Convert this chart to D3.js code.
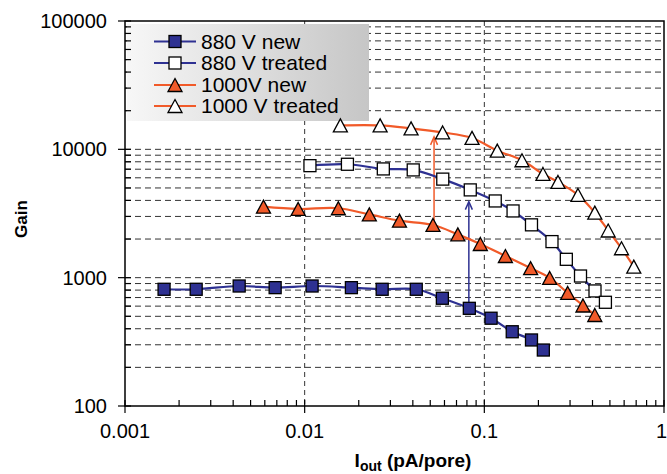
<!DOCTYPE html>
<html>
<head>
<meta charset="utf-8">
<script src="https://cdn.jsdelivr.net/npm/d3@7/dist/d3.min.js"></script>
<style>
  html, body { margin: 0; padding: 0; background: #fff; }
  svg { display: block; font-family: "Liberation Sans", Arial, sans-serif; }
</style>
</head>
<body>
<svg id="chart" width="667" height="474"></svg>
<script>
// ---- data ----
const seriesNames = ["880 V new", "880 V treated", "1000V new", "1000 V treated"];

const iNew880 = [0.00165, 0.00249, 0.00432, 0.00685, 0.0110, 0.0182, 0.0270, 0.0418, 0.0584, 0.0825, 0.109, 0.143, 0.183, 0.213];
const gNew880 = [812, 812, 861, 836, 861, 836, 812, 812, 691, 577, 483, 379, 327, 273];

const iTreated880 = [0.0107, 0.0173, 0.0274, 0.0402, 0.0587, 0.0835, 0.115, 0.1445, 0.183, 0.238, 0.286, 0.343, 0.413, 0.472];
const gTreated880 = [7460, 7650, 7035, 6910, 5860, 4830, 3960, 3310, 2580, 1910, 1390, 1030, 788, 643];

const iNew1000 = [0.0059, 0.0092, 0.0154, 0.0229, 0.0337, 0.0518, 0.0712, 0.095, 0.131, 0.181, 0.231, 0.291, 0.354, 0.412];
const gNew1000 = [3575, 3430, 3475, 3110, 2780, 2575, 2175, 1830, 1475, 1185, 995, 760, 607, 512];

const iTreated1000 = [0.0158, 0.0263, 0.0391, 0.0586, 0.0854, 0.118, 0.162, 0.212, 0.257, 0.332, 0.412, 0.489, 0.580, 0.679];
const gTreated1000 = [15360, 15360, 14550, 13540, 12270, 9770, 8220, 6430, 5570, 4410, 3210, 2330, 1695, 1218];

// arrows: [current, fromGain, toGain]
const arrowOrange = [0.0525, 2600, 12500];
const arrowBlue = [0.082, 594, 3910];

const xTickValues = [0.001, 0.01, 0.1, 1];
const xTickLabels = ["0.001", "0.01", "0.1", "1"];
const yTickValues = [100, 1000, 10000, 100000];
const yTickLabels = ["100", "1000", "10000", "100000"];

// ---- layout ----
const svg = d3.select("#chart");
const L = 125, R = 664, T = 21, B = 406;
const x = d3.scaleLog().domain([0.001, 1]).range([L, R]);
const y = d3.scaleLog().domain([100, 100000]).range([B, T]);

const BLUE = "#2E3192";
const ORANGE = "#F15A29";

// minor values
const yMinor = [];
[100, 1000, 10000].forEach(d => { for (let k = 1; k <= 9; k++) yMinor.push(d * k); });
yMinor.push(100000);
const xMinor = [];
[0.001, 0.01, 0.1].forEach(d => { for (let k = 2; k <= 9; k++) xMinor.push(d * k); });

// gridlines
const grid = svg.append("g");
grid.selectAll("line.h").data(yMinor.filter(v => v > 100 && v < 100000)).join("line")
  .attr("x1", L).attr("x2", R)
  .attr("y1", d => y(d)).attr("y2", d => y(d))
  .attr("stroke", "#333").attr("stroke-width", 1).attr("stroke-dasharray", "6,4");
grid.selectAll("line.v").data([0.01, 0.1]).join("line")
  .attr("x1", d => x(d)).attr("x2", d => x(d))
  .attr("y1", T).attr("y2", B)
  .attr("stroke", "#333").attr("stroke-width", 1).attr("stroke-dasharray", "5,4");

// legend background (opaque, covers gridlines)
const defs = svg.append("defs");
const grad = defs.append("linearGradient").attr("id", "lg").attr("x1", "0").attr("x2", "1").attr("y1", "0").attr("y2", "0");
grad.append("stop").attr("offset", "0").attr("stop-color", "#f7f7f7");
grad.append("stop").attr("offset", "1").attr("stop-color", "#c6c6c6");
svg.append("rect").attr("x", 127).attr("y", 24).attr("width", 242).attr("height", 97).attr("fill", "url(#lg)");

// frame
svg.append("rect").attr("x", L).attr("y", T).attr("width", R - L).attr("height", B - T)
  .attr("fill", "none").attr("stroke", "#000").attr("stroke-width", 1.5);

// axes ticks
const ax = svg.append("g").attr("stroke", "#000").attr("stroke-width", 1.2);
ax.selectAll("line.xm").data(xTickValues).join("line")
  .attr("x1", d => x(d)).attr("x2", d => x(d)).attr("y1", B - 6).attr("y2", B + 7);
ax.selectAll("line.xn").data(xMinor).join("line")
  .attr("x1", d => x(d)).attr("x2", d => x(d)).attr("y1", B - 6).attr("y2", B);
ax.selectAll("line.ym").data(yTickValues).join("line")
  .attr("x1", L - 7).attr("x2", L + 6).attr("y1", d => y(d)).attr("y2", d => y(d));
ax.selectAll("line.yn").data(yMinor.filter(v => !yTickValues.includes(v))).join("line")
  .attr("x1", L).attr("x2", L + 6).attr("y1", d => y(d)).attr("y2", d => y(d));

// tick labels
svg.append("g").selectAll("text").data(xTickValues).join("text")
  .attr("x", d => d === 1 ? 667 : x(d)).attr("y", B + 32)
  .attr("text-anchor", d => d === 1 ? "end" : "middle")
  .attr("font-size", 20).text((d, i) => xTickLabels[i]);
svg.append("g").selectAll("text").data(yTickValues).join("text")
  .attr("x", L - 18).attr("y", d => y(d) + 7).attr("text-anchor", "end")
  .attr("font-size", 20).text((d, i) => yTickLabels[i]);

// axis titles
svg.append("text").attr("transform", "translate(27,219) rotate(-90)")
  .attr("text-anchor", "middle").attr("font-size", 17).attr("font-weight", "bold").text("Gain");
const xt = svg.append("text").attr("x", 413).attr("y", 467).attr("text-anchor", "middle")
  .attr("font-size", 19).attr("font-weight", "bold");
xt.append("tspan").text("I");
xt.append("tspan").attr("font-size", 14).attr("dy", 4).text("out");
xt.append("tspan").attr("dy", -4).text(" (pA/pore)");

// arrows
function arrow(a, color) {
  const ax0 = x(a[0]), y0 = y(a[1]), y1 = y(a[2]);
  svg.append("line").attr("x1", ax0).attr("x2", ax0).attr("y1", y0).attr("y2", y1 + 1)
    .attr("stroke", color).attr("stroke-width", 1.5);
  svg.append("path").attr("d", `M${ax0 - 3.5},${y1 + 8} L${ax0},${y1} L${ax0 + 3.5},${y1 + 8}`)
    .attr("fill", "none").attr("stroke", color).attr("stroke-width", 1.5);
}
arrow(arrowOrange, ORANGE);
arrow(arrowBlue, BLUE);

// series
const series = [
  { xs: iNew880, ys: gNew880, color: BLUE, shape: "square", fill: BLUE },
  { xs: iTreated880, ys: gTreated880, color: BLUE, shape: "square", fill: "#fff" },
  { xs: iNew1000, ys: gNew1000, color: ORANGE, shape: "triangle", fill: ORANGE },
  { xs: iTreated1000, ys: gTreated1000, color: ORANGE, shape: "triangle", fill: "#fff" }
];
const line = d3.line().x(d => x(d[0])).y(d => y(d[1])).curve(d3.curveCatmullRom.alpha(0.5));

function marker(g, shape, cx, cy, fill) {
  if (shape === "square") {
    g.append("rect").attr("x", cx - 6).attr("y", cy - 6).attr("width", 12).attr("height", 12)
      .attr("fill", fill).attr("stroke", "#000").attr("stroke-width", 1.3);
  } else {
    g.append("path").attr("d", `M${cx},${cy - 6.5} L${cx + 7},${cy + 6.5} L${cx - 7},${cy + 6.5} Z`)
      .attr("fill", fill).attr("stroke", "#000").attr("stroke-width", 1.3);
  }
}

series.forEach(s => {
  const pts = s.xs.map((v, i) => [v, s.ys[i]]);
  svg.append("path").datum(pts).attr("d", line).attr("fill", "none")
    .attr("stroke", s.color).attr("stroke-width", 2.2);
});
series.forEach(s => {
  const g = svg.append("g");
  s.xs.forEach((v, i) => marker(g, s.shape, x(v), y(s.ys[i]), s.fill));
});

// legend entries
const legY = [41.5, 63, 85, 106];
series.forEach((s, i) => {
  const g = svg.append("g");
  g.append("line").attr("x1", 154).attr("x2", 196).attr("y1", legY[i]).attr("y2", legY[i])
    .attr("stroke", s.color).attr("stroke-width", 2.2);
  marker(g, s.shape, 175, legY[i], s.fill);
  g.append("text").attr("x", 201).attr("y", legY[i] + 7).attr("font-size", 21).text(seriesNames[i]);
});
</script>
</body>
</html>
